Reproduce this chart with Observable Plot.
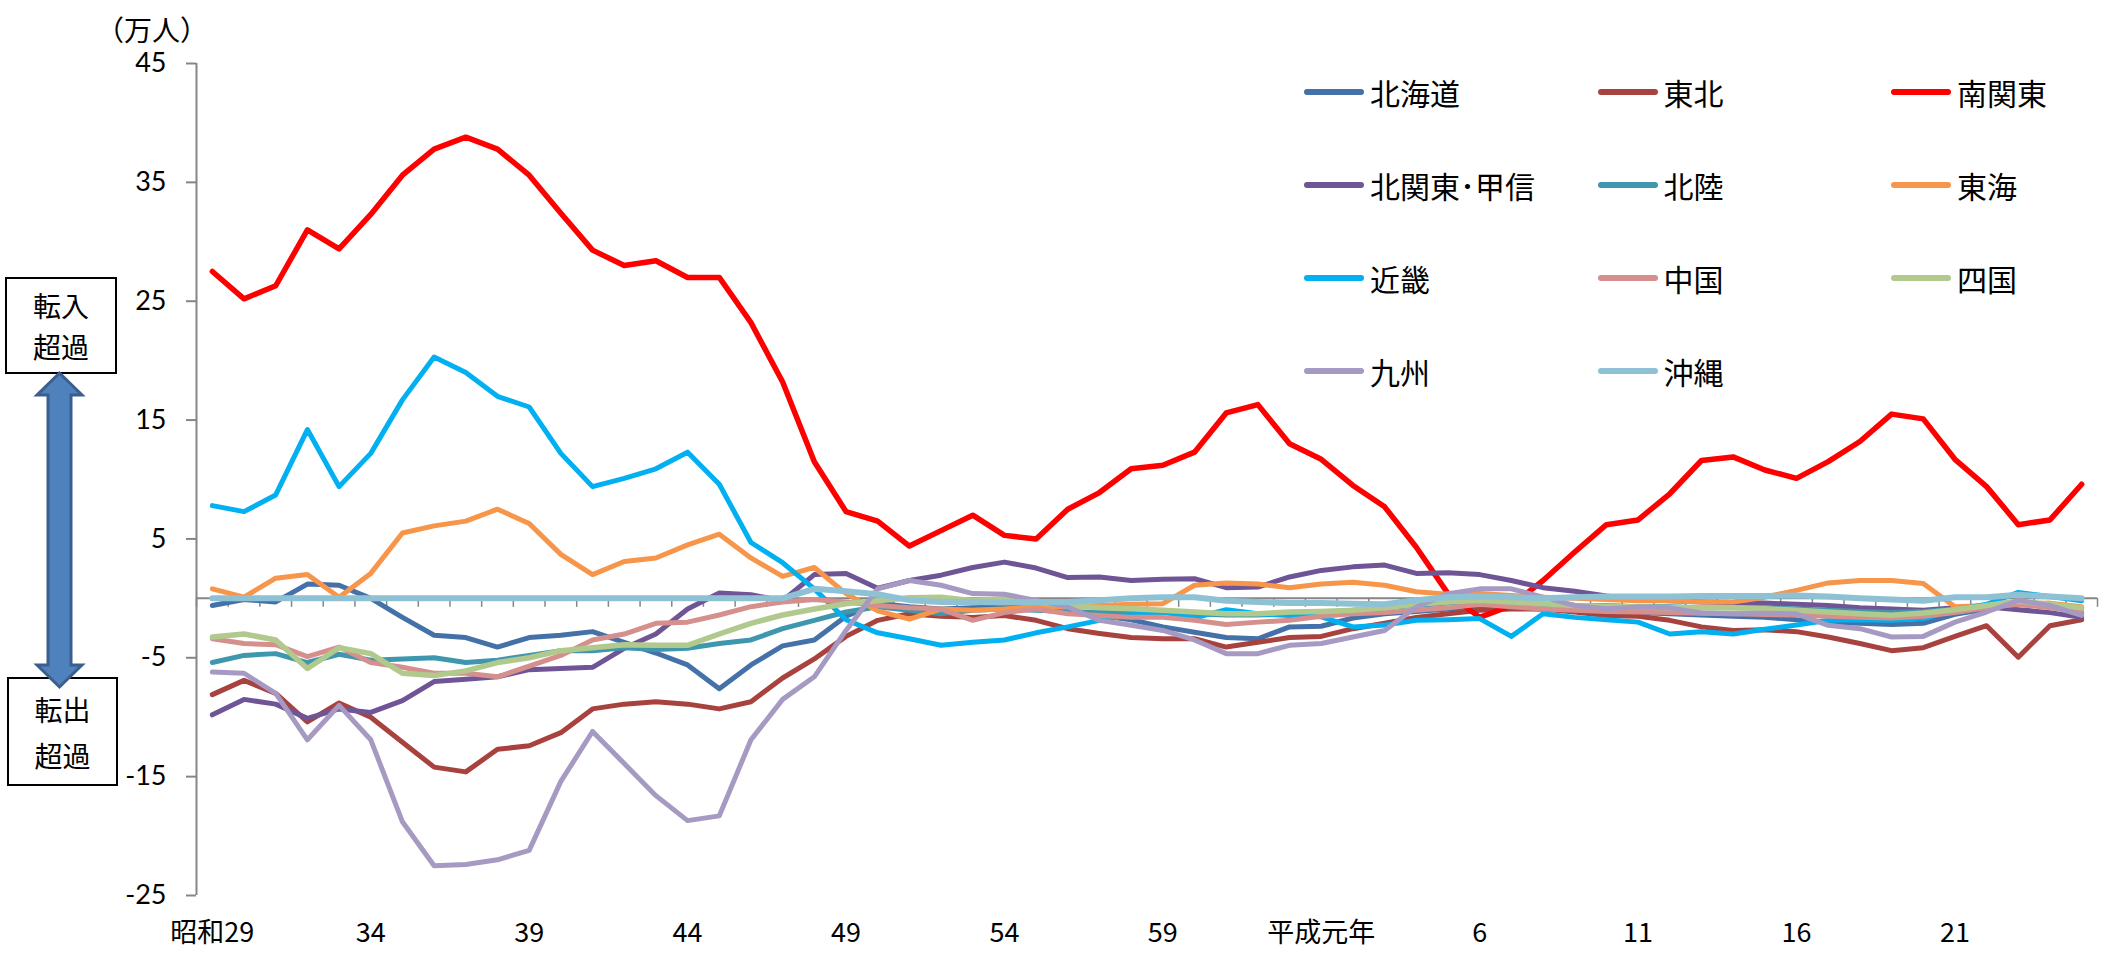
<!DOCTYPE html>
<html><head><meta charset="utf-8">
<script src="https://cdn.jsdelivr.net/npm/d3@7"></script>
<script src="https://cdn.jsdelivr.net/npm/@observablehq/plot@0.6"></script>
<style>
body{margin:0;background:#fff;}
#wrap{position:relative;width:2111px;height:953px;overflow:hidden;font-family:"Noto Sans CJK JP",sans-serif;}
#wrap svg.plot{position:absolute;left:0;top:0;}
.unit{position:absolute;left:96px;top:14px;font-size:28px;line-height:30px;color:#000;}
.box{position:absolute;box-sizing:border-box;border:2px solid #000;background:#fff;display:flex;flex-direction:column;align-items:center;justify-content:center;font-size:28px;color:#000;}
.leg{position:absolute;display:flex;align-items:center;height:44px;}
.leg .sw{display:inline-block;width:60px;height:6px;border-radius:3px;}
.leg .tx{margin-left:6px;font-size:30px;line-height:44px;color:#000;}
</style></head>
<body><div id="wrap"></div>
<script>
// ---- data (万人) ----
const years = d3.range(1954, 2014);
const regionNames = ["北海道","東北","南関東","北関東･甲信","北陸","東海","近畿","中国","四国","九州","沖縄"];

const hokkaido = [-0.6,-0.1,-0.3,1.2,1.1,0.0,-1.6,-3.1,-3.3,-4.1,
 -3.3,-3.1,-2.8,-3.7,-4.6,-5.6,-7.6,-5.6,-4.0,-3.5,
 -1.5,-0.4,-0.7,-0.9,-0.8,-0.7,-0.9,-1.15,-1.45,-1.8,
 -2.4,-2.85,-3.3,-3.4,-2.4,-2.35,-1.65,-1.3,-1.1,-0.9,
 -0.8,-0.8,-0.9,-1.0,-1.1,-1.2,-1.3,-1.4,-1.5,-1.6,
 -1.8,-2.0,-2.1,-2.2,-2.1,-1.35,-0.9,-0.5,-0.7,-1.2];
const tohoku = [-8.1,-6.9,-8.0,-10.4,-8.8,-10.0,-12.1,-14.2,-14.6,-12.7,
 -12.4,-11.3,-9.3,-8.9,-8.7,-8.9,-9.3,-8.7,-6.7,-5.1,
 -3.2,-1.85,-1.3,-1.5,-1.6,-1.45,-1.85,-2.55,-2.95,-3.3,
 -3.4,-3.4,-4.1,-3.7,-3.3,-3.2,-2.55,-2.1,-1.6,-1.3,
 -1.0,-0.9,-0.9,-1.15,-1.45,-1.5,-1.85,-2.4,-2.7,-2.65,
 -2.8,-3.25,-3.8,-4.4,-4.15,-3.2,-2.3,-4.95,-2.3,-1.8];
const minamiKanto = [27.5,25.2,26.3,31.0,29.4,32.3,35.6,37.8,38.8,37.8,
 35.6,32.4,29.3,28.0,28.4,27.0,27.0,23.2,18.2,11.5,
 7.3,6.5,4.4,5.7,7.0,5.3,5.0,7.5,8.9,10.9,
 11.2,12.3,15.6,16.3,13.0,11.7,9.5,7.7,4.3,0.4,
 -1.6,-0.6,1.5,3.9,6.2,6.6,8.8,11.6,11.9,10.8,
 10.1,11.5,13.2,15.5,15.1,11.7,9.4,6.2,6.6,9.6];
const kitaKantoKoshin = [-9.8,-8.5,-8.9,-10.1,-9.3,-9.6,-8.6,-7.0,-6.8,-6.6,
 -6.0,-5.9,-5.8,-4.2,-3.0,-0.9,0.45,0.3,-0.2,2.0,
 2.1,0.85,1.5,1.95,2.6,3.05,2.55,1.75,1.8,1.5,
 1.6,1.65,0.9,0.95,1.8,2.35,2.65,2.8,2.1,2.15,
 2.0,1.5,0.9,0.6,0.2,-0.1,-0.2,-0.3,-0.35,-0.4,
 -0.5,-0.6,-0.8,-0.9,-1.0,-0.8,-0.7,-0.95,-1.2,-1.6];
const hokuriku = [-5.4,-4.8,-4.65,-5.4,-4.7,-5.2,-5.1,-5.0,-5.4,-5.2,
 -4.8,-4.4,-4.4,-4.15,-4.3,-4.2,-3.8,-3.5,-2.55,-1.85,
 -1.15,-0.7,-1.0,-1.3,-1.0,-0.9,-1.0,-1.1,-1.2,-1.2,
 -1.2,-1.3,-1.4,-1.4,-1.3,-1.2,-1.0,-0.8,-0.6,-0.4,
 -0.3,-0.4,-0.5,-0.6,-0.6,-0.7,-0.7,-0.8,-0.8,-0.8,
 -0.9,-1.0,-1.1,-1.2,-1.1,-0.9,-0.6,-0.4,-0.5,-0.8];
const tokai = [0.8,0.1,1.7,2.0,0.1,2.1,5.5,6.1,6.5,7.5,
 6.3,3.7,2.0,3.1,3.4,4.5,5.4,3.4,1.85,2.6,
 0.4,-1.05,-1.75,-0.9,-1.0,-0.9,-0.7,-0.7,-0.6,-0.5,
 -0.45,1.1,1.3,1.2,0.9,1.2,1.35,1.1,0.55,0.35,
 0.4,0.25,0.1,0.0,-0.1,-0.2,-0.2,-0.3,-0.3,0.1,
 0.67,1.3,1.5,1.5,1.25,-0.7,-0.6,-0.5,-0.4,-0.7];
const kinki = [7.8,7.3,8.7,14.2,9.4,12.2,16.7,20.3,19.0,17.0,
 16.1,12.2,9.4,10.1,10.9,12.3,9.6,4.7,3.0,0.8,
 -1.8,-2.9,-3.4,-3.95,-3.7,-3.5,-2.9,-2.4,-1.85,-1.4,
 -1.15,-1.65,-0.95,-1.3,-1.45,-1.55,-2.4,-2.25,-1.85,-1.8,
 -1.7,-3.2,-1.3,-1.6,-1.8,-2.0,-3.0,-2.8,-3.0,-2.6,
 -2.25,-1.85,-1.8,-1.85,-1.7,-1.0,-0.5,0.5,0.15,-0.2];
const chugoku = [-3.4,-3.8,-3.9,-4.9,-4.1,-5.4,-5.8,-6.3,-6.3,-6.6,
 -5.7,-4.8,-3.5,-3.0,-2.1,-2.0,-1.4,-0.7,-0.3,-0.1,
 -0.3,-0.6,-0.8,-0.9,-1.85,-1.2,-0.9,-1.3,-1.45,-1.6,
 -1.6,-1.85,-2.2,-2.0,-1.85,-1.5,-1.3,-1.2,-1.0,-0.8,
 -0.5,-0.7,-0.9,-1.0,-1.1,-1.15,-1.2,-1.25,-1.3,-1.35,
 -1.4,-1.5,-1.6,-1.65,-1.5,-1.2,-0.8,-0.5,-0.8,-1.1];
const shikoku = [-3.25,-3.0,-3.5,-5.9,-4.15,-4.65,-6.3,-6.5,-6.1,-5.4,
 -5.0,-4.4,-4.15,-3.9,-3.95,-3.95,-3.0,-2.1,-1.4,-0.9,
 -0.45,-0.2,0.05,0.1,-0.2,-0.03,-0.3,-0.6,-0.8,-0.87,
 -1.0,-1.15,-1.3,-1.3,-1.15,-1.1,-1.0,-0.8,-0.5,-0.3,
 -0.17,-0.3,-0.45,-0.6,-0.67,-0.73,-0.8,-0.8,-0.8,-0.87,
 -1.0,-1.15,-1.3,-1.43,-1.23,-0.95,-0.6,-0.22,-0.5,-0.8];
const kyushu = [-6.2,-6.3,-8.0,-11.9,-9.0,-11.9,-18.8,-22.5,-22.4,-22.0,
 -21.2,-15.4,-11.2,-13.9,-16.6,-18.7,-18.3,-11.9,-8.5,-6.6,
 -2.7,0.8,1.5,1.1,0.4,0.35,-0.17,-0.73,-1.85,-2.27,
 -2.7,-3.5,-4.65,-4.65,-3.95,-3.8,-3.25,-2.7,-0.73,0.4,
 0.8,0.8,0.1,-0.6,-0.87,-0.73,-0.8,-1.23,-1.3,-1.25,
 -1.3,-2.27,-2.55,-3.25,-3.2,-2.0,-1.15,-0.17,-0.6,-1.43];
const okinawa = [0,0,0,0,0,0,0,0,0,0,
 0,0,0,0,0,0,0,0,0,0.8,
 0.6,0.35,-0.15,-0.3,-0.3,-0.35,-0.3,-0.3,-0.15,0.0,
 0.1,0.1,-0.2,-0.3,-0.4,-0.4,-0.45,-0.5,-0.15,0.1,
 0.15,0.1,0.0,0.1,0.15,0.15,0.15,0.2,0.2,0.2,
 0.25,0.15,0.0,-0.1,-0.2,0.1,0.1,0.3,0.15,0.0];

const xTickYears = [1954,1959,1964,1969,1974,1979,1984,1989,1994,1999,2004,2009];
const xTickLabels = ["昭和29","34","39","44","49","54","59","平成元年","6","11","16","21"];
const yTicks = [45,35,25,15,5,-5,-15,-25];
const unitLabel = "（万人）";
const inLabel = ["転入","超過"];
const outLabel = ["転出","超過"];

// ---- styles ----
const seriesValues = [hokkaido,tohoku,minamiKanto,kitaKantoKoshin,hokuriku,tokai,kinki,chugoku,shikoku,kyushu,okinawa];
const colors = ["#4472A8","#A8423F","#FF0000","#6F5595","#3F97AE","#F7964A","#00B0F0","#D5908E","#B2C98E","#A79AC2","#8FC1D5"];
const widths = [5,5,5.5,5,5,5,5,5,5.5,5,6];

const rows = regionNames.flatMap((name,k) => years.map((yr,i) => ({region:name, year:yr, value:seriesValues[k][i]})));
const boundaries = d3.range(years.length + 1).map(i => years[0] - 0.5 + i);
const axisGray = "#868686";

const lineMarks = regionNames.map((name,k) => Plot.line(rows.filter(r => r.region === name), {
  x:"year", y:"value", stroke: colors[k], strokeWidth: widths[k],
  strokeLinejoin:"round", strokeLinecap:"round"
}));

const chart = Plot.plot({
  width: 2111, height: 953,
  marginLeft: 196, marginRight: 14, marginTop: 63, marginBottom: 58,
  style: {background:"#fff", overflow:"visible"},
  x: {domain:[years[0]-0.5, years[years.length-1]+0.5], label:null},
  y: {domain:[-25,45], label:null},
  marks: [
    Plot.ruleX([years[0]-0.5], {stroke: axisGray, strokeWidth: 2}),
    Plot.axisY({ticks: yTicks, tickSize: 10, tickPadding: 20, tickFormat: d => String(d),
      stroke: axisGray, strokeWidth: 2, fill: "#000", fontSize: 27, fontFamily: "Lato, 'Open Sans', sans-serif", label: null}),
    Plot.ruleY([0], {stroke: axisGray, strokeWidth: 2}),
    Plot.ruleX(boundaries, {y1: 0, y2: 0, insetBottom: -9, stroke: axisGray, strokeWidth: 1.5}),
    Plot.axisX({ticks: xTickYears, tickFormat: yr => xTickLabels[xTickYears.indexOf(yr)],
      tickSize: 0, tickPadding: 27, fill: "#000", fontSize: 27,
      fontFamily: "'Noto Sans CJK JP', sans-serif", label: null}),
    ...lineMarks
  ]
});
chart.classList.add("plot");

const wrap = document.getElementById("wrap");
wrap.appendChild(chart);

// unit label
const unitDiv = document.createElement("div");
unitDiv.className = "unit"; unitDiv.textContent = unitLabel;
wrap.appendChild(unitDiv);

// legend
regionNames.forEach((name,k) => {
  const col = k % 3, row = Math.floor(k / 3);
  const it = document.createElement("div");
  it.className = "leg";
  it.style.left = (1304 + col * 293.5) + "px";
  it.style.top = (92 + row * 93 - 22) + "px";
  it.innerHTML = `<span class="sw" style="background:${colors[k]}"></span><span class="tx">${name}</span>`;
  wrap.appendChild(it);
});

// annotation boxes
function makeBox(lines, left, topPx, w, h, lh){
  const b = document.createElement("div");
  b.className = "box";
  Object.assign(b.style, {left:left+"px", top:topPx+"px", width:w+"px", height:h+"px", lineHeight: lh+"px"});
  b.innerHTML = lines.map(t => `<div>${t}</div>`).join("");
  wrap.appendChild(b);
}
makeBox(inLabel, 5, 277, 112, 97, 41);
makeBox(outLabel, 7, 677, 111, 109, 46);

// double arrow
const ns = "http://www.w3.org/2000/svg";
const asvg = document.createElementNS(ns, "svg");
asvg.setAttribute("width", 140); asvg.setAttribute("height", 953);
asvg.style.position = "absolute"; asvg.style.left = "0px"; asvg.style.top = "0px";
const poly = document.createElementNS(ns, "polygon");
const aCx = 59.5, aTop = 373, aBot = 687, aHw = 22.5, aSw = 11.5, aHh = 22;
poly.setAttribute("points", [
  [aCx, aTop],[aCx+aHw, aTop+aHh],[aCx+aSw, aTop+aHh],[aCx+aSw, aBot-aHh],[aCx+aHw, aBot-aHh],[aCx, aBot],
  [aCx-aHw, aBot-aHh],[aCx-aSw, aBot-aHh],[aCx-aSw, aTop+aHh],[aCx-aHw, aTop+aHh]
].map(p => p.join(",")).join(" "));
poly.setAttribute("fill", "#4F81BD");
poly.setAttribute("stroke", "#3A5F8D");
poly.setAttribute("stroke-width", "3");
asvg.appendChild(poly);
wrap.appendChild(asvg);
</script>
</body></html>
